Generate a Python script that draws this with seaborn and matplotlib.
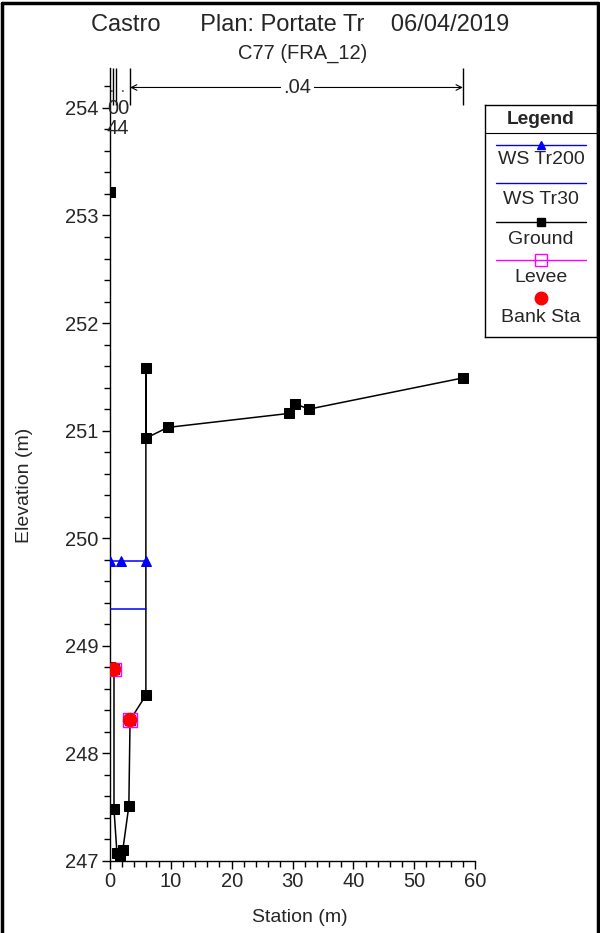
import matplotlib
matplotlib.use("Agg")
import matplotlib.pyplot as plt
import seaborn as sns
import numpy as np
import pandas as pd
from matplotlib.lines import Line2D
from matplotlib.ticker import MultipleLocator

ground_sta = [0, 0, 0.66, 0.66, 1.15, 1.6, 2.1, 3.1, 3.3, 5.9, 5.9, 5.9, 9.5, 29.4, 30.4, 32.7, 58.0]
ground_elev = [253.22, 248.80, 248.78, 247.48, 247.07, 247.04, 247.10, 247.51, 248.31, 248.54,
               251.58, 250.93, 251.03, 251.16, 251.25, 251.20, 251.49]
ws200_sta = [0, 1.75, 5.9]
ws200_elev = [249.79, 249.79, 249.79]
ws30_sta = [0, 5.9]
ws30_elev = [249.34, 249.34]
levee_sta = [0.66, 3.3]
levee_elev = [248.78, 248.31]
bank_sta = [0.66, 3.3]
bank_elev = [248.78, 248.31]
n_breaks = [0.45, 1.0, 3.3, 58.0]
n_label = ".04"

sns.set_style("ticks")
plt.rcParams['font.family'] = ['Liberation Sans', 'DejaVu Sans']

FS = 14.5

fig = plt.figure(figsize=(6, 9.33), dpi=100)
ax = fig.add_axes([0.1833, 0.0772, 0.6084, 0.8498])

ground = pd.DataFrame({"sta": ground_sta, "elev": ground_elev})
sns.lineplot(data=ground, x="sta", y="elev", sort=False, estimator=None, color="black",
             lw=1.1, marker="s", markersize=6.5, markeredgecolor="black", ax=ax, zorder=3)
sns.lineplot(x=ws200_sta, y=ws200_elev, color="blue", lw=1.1, marker="^", markersize=7,
             markeredgecolor="blue", ax=ax, zorder=4, estimator=None)
sns.lineplot(x=ws30_sta, y=ws30_elev, color="blue", lw=1.1, ax=ax, zorder=4, estimator=None)
ax.scatter(levee_sta, levee_elev, marker="s", s=90, facecolor="none", edgecolor="magenta", lw=1, zorder=5)
sns.scatterplot(x=bank_sta, y=bank_elev, color="red", s=110, edgecolor="none", ax=ax, zorder=6)

ax.set_xlim(0, 60)
ax.set_ylim(247, 254.37)
ax.xaxis.set_major_locator(MultipleLocator(10))
ax.xaxis.set_minor_locator(MultipleLocator(2))
ax.yaxis.set_major_locator(MultipleLocator(1))
ax.yaxis.set_minor_locator(MultipleLocator(0.2))
ax.tick_params(which="major", length=6, width=1, labelsize=FS, color="black", pad=2)
ax.tick_params(which="minor", length=4, width=1, color="black")
sns.despine(ax=ax)
for s in ["left", "bottom"]:
    ax.spines[s].set_linewidth(1)
    ax.spines[s].set_color("black")
ax.set_xlabel("Station (m)", fontsize=14, va="center")
ax.set_ylabel("Elevation (m)", fontsize=14, va="center")
ax.xaxis.set_label_coords(0.52, -0.0719)
ax.yaxis.set_label_coords(-0.233, 0.474)

# manning n annotation
ax.vlines(n_breaks, 254.03, 254.37, color="black", lw=1, clip_on=False)
ax.annotate("", xy=(n_breaks[2], 254.19), xytext=(n_breaks[3], 254.19),
            arrowprops=dict(arrowstyle="<->", color="black", lw=0.8, shrinkA=0, shrinkB=0),
            annotation_clip=False)
ax.text(30.8, 254.19, n_label, ha="center", va="center", fontsize=FS,
        bbox=dict(facecolor="white", edgecolor="none", pad=2))
ax.text(0.35, 254.12, ".", ha="center", va="bottom", fontsize=10)
ax.text(2.0, 254.12, ".", ha="center", va="bottom", fontsize=10)
ax.text(1.35, 253.99, "00", ha="center", va="center", fontsize=FS)
ax.text(1.35, 253.81, "44", ha="center", va="center", fontsize=FS)

fig.text(0.5, 0.973, "Castro      Plan: Portate Tr    06/04/2019", ha="center", va="center", fontsize=17)
fig.text(0.505, 0.943, "C77 (FRA_12)", ha="center", va="center", fontsize=14.5)

# legend box
lg = fig.add_axes([485 / 600, 1 - 337 / 933, 112 / 600, 232 / 933])
lg.set_xlim(0, 1)
lg.set_ylim(337, 105)
lg.set_xticks([])
lg.set_yticks([])
for s in lg.spines.values():
    s.set_linewidth(1)
    s.set_color("black")
lg.axhline(133, color="black", lw=0.8)
lg.text(0.5, 119, "Legend", ha="center", va="center", fontsize=13.8, fontweight="bold")
entries = [("WS Tr200", "blue", "^", "blue", 145, 160),
           ("WS Tr30", "blue", None, None, 183, 200),
           ("Ground", "black", "s", "black", 222, 239),
           ("Levee", "magenta", "s", "none", 260, 277),
           ("Bank Sta", None, "o", "red", 298, 317)]
for name, lc, mk, mfc, yl, yt in entries:
    if lc is not None:
        lg.plot([0.1, 0.9], [yl, yl], color=lc, lw=1)
    if mk is not None:
        mec = "magenta" if name == "Levee" else mfc
        lg.plot([0.5], [yl], marker=mk, markersize=9 if name in ("Levee", "Bank Sta") else 6,
                markerfacecolor=mfc, markeredgecolor=mec, linestyle="none")
    lg.text(0.5, yt, name, ha="center", va="center", fontsize=14)

# figure frame
fig.add_artist(Line2D([0.003, 0.003], [0, 0.997], transform=fig.transFigure, color="black", lw=2.5))
fig.add_artist(Line2D([0.003, 0.997], [0.997, 0.997], transform=fig.transFigure, color="black", lw=2.5))
fig.add_artist(Line2D([0.997, 0.997], [0, 0.997], transform=fig.transFigure, color="black", lw=2.5))

fig.savefig("out.png", dpi=100)
